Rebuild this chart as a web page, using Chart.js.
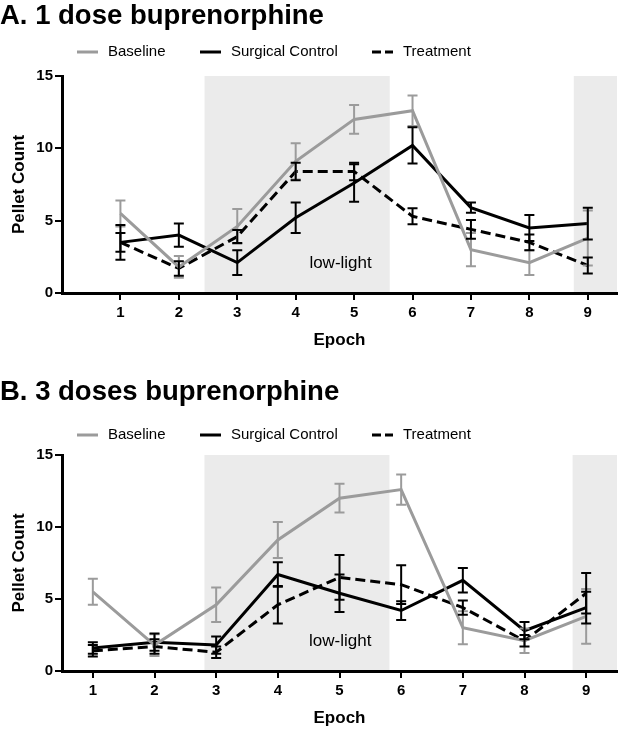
<!DOCTYPE html>
<html>
<head>
<meta charset="utf-8">
<script src="https://cdn.jsdelivr.net/npm/chart.js@4.4.1/dist/chart.umd.min.js"></script>
<style>
  body { margin: 0; background: #fff; }
  .panel { position: absolute; left: 0; width: 620px; }
  #panelA { top: 0; height: 360px; }
  #panelB { top: 360px; height: 370px; }
</style>
</head>
<body>
<div class="panel" id="panelA"><canvas id="ChartA"></canvas></div>
<div class="panel" id="panelB"><canvas id="ChartB"></canvas></div>
<script>
var epochs = [1, 2, 3, 4, 5, 6, 7, 8, 9];
var seriesNames = ['Baseline', 'Surgical Control', 'Treatment'];
var yTicks = [0, 5, 10, 15];

// baseline is the same in both panels
var baseline = [5.5, 1.8, 4.6, 9.1, 12.0, 12.6, 3.0, 2.1, 3.8];
var baselineErr = [0.9, 0.75, 1.2, 1.25, 1.0, 1.05, 1.15, 0.85, 1.9];

// A. 1 dose
var controlA = [3.5, 4.0, 2.1, 5.2, 7.6, 10.2, 5.9, 4.5, 4.8];
var controlErrA = [0.65, 0.8, 0.85, 1.05, 1.3, 1.25, 0.35, 0.9, 1.1];
var treatA = [3.5, 1.7, 3.9, 8.4, 8.4, 5.3, 4.4, 3.5, 1.9];
var treatErrA = [1.2, 0.5, 0.45, 0.6, 0.6, 0.55, 0.65, 0.55, 0.55];
var lowLightA = [[2.44, 5.61], [8.76, 9.5]];

// B. 3 doses
var controlB = [1.6, 2.0, 1.8, 6.7, 5.4, 4.2, 6.3, 2.8, 4.4];
var controlErrB = [0.4, 0.6, 0.6, 0.85, 1.3, 0.65, 0.85, 0.6, 1.1];
var treatB = [1.4, 1.7, 1.3, 4.6, 6.5, 6.0, 4.4, 2.1, 5.4];
var treatErrB = [0.4, 0.5, 0.4, 1.3, 1.55, 1.35, 0.5, 0.4, 1.4];
var lowLightB = [[2.81, 5.81], [8.78, 9.5]];

var FONT = "'Liberation Sans', Arial, Helvetica, sans-serif";
var GRAY = '#9b9b9b';
Chart.defaults.font.family = FONT;
Chart.defaults.color = '#000';

function toPoints(values) {
  return values.map(function(v, i) { return { x: epochs[i], y: v }; });
}

var panelExtras = {
  id: 'panelExtras',
  beforeDraw: function(chart, args, opts) {
    var ctx = chart.ctx, area = chart.chartArea, xs = chart.scales.x;
    ctx.save();
    ctx.fillStyle = '#ebebeb';
    opts.shade.forEach(function(r) {
      var x0 = xs.getPixelForValue(r[0]), x1 = xs.getPixelForValue(r[1]);
      ctx.fillRect(x0, area.top, x1 - x0, area.bottom - area.top);
    });
    // low-light label sits in the first shaded band
    var edge = xs.getPixelForValue(opts.shade[0][1]);
    ctx.fillStyle = '#000';
    ctx.font = '17px ' + FONT;
    ctx.textAlign = 'right';
    ctx.textBaseline = 'middle';
    ctx.fillText('low-light', edge - 18, area.bottom - 30);
    ctx.restore();
  },
  afterDatasetsDraw: function(chart) {
    var ctx = chart.ctx, xs = chart.scales.x, ys = chart.scales.y;
    ctx.save();
    ctx.setLineDash([]);
    ctx.lineWidth = 2;
    chart.data.datasets.forEach(function(ds) {
      ctx.strokeStyle = ds.borderColor;
      ds.data.forEach(function(pt, j) {
        var px = xs.getPixelForValue(pt.x);
        var top = ys.getPixelForValue(pt.y + ds.errors[j]);
        var bot = ys.getPixelForValue(pt.y - ds.errors[j]);
        ctx.beginPath();
        ctx.moveTo(px, top); ctx.lineTo(px, bot);
        ctx.moveTo(px - 5, top); ctx.lineTo(px + 5, top);
        ctx.moveTo(px - 5, bot); ctx.lineTo(px + 5, bot);
        ctx.stroke();
      });
    });
    ctx.restore();
  },
  afterDraw: function(chart, args, opts) {
    var ctx = chart.ctx;
    ctx.save();
    ctx.font = '15px ' + FONT;
    ctx.textAlign = 'left';
    ctx.textBaseline = 'middle';
    ctx.fillStyle = '#000';
    chart.data.datasets.forEach(function(ds, i) {
      var lx = opts.legendX[i], ly = opts.legendY;
      ctx.strokeStyle = ds.borderColor;
      ctx.lineWidth = 3;
      ctx.setLineDash(ds.borderDash ? [9, 4] : []);
      ctx.beginPath();
      ctx.moveTo(lx, ly); ctx.lineTo(lx + 21, ly);
      ctx.stroke();
      ctx.fillText(ds.label, lx + 31, ly);
    });
    ctx.restore();
  }
};

function makePanel(canvasId, title, control, controlErr, treat, treatErr, xMin, shade, lay) {
  var ctx = document.getElementById(canvasId).getContext('2d');
  return new Chart(ctx, {
    type: 'line',
    data: {
      datasets: [{
        label: seriesNames[0],
        data: toPoints(baseline),
        errors: baselineErr,
        borderColor: GRAY,
        borderWidth: 3
      }, {
        label: seriesNames[1],
        data: toPoints(control),
        errors: controlErr,
        borderColor: '#000',
        borderWidth: 3
      }, {
        label: seriesNames[2],
        data: toPoints(treat),
        errors: treatErr,
        borderColor: '#000',
        borderWidth: 3,
        borderDash: [10, 5]
      }]
    },
    options: {
      responsive: true,
      maintainAspectRatio: false,
      animation: false,
      elements: { point: { radius: 0 }, line: { tension: 0 } },
      layout: { padding: { left: 0, right: 3, top: 0, bottom: 0 } },
      plugins: {
        legend: { display: false },
        tooltip: { enabled: false },
        title: {
          display: true,
          text: title,
          align: 'start',
          color: '#000',
          font: { size: 27.5, weight: 'bold' },
          padding: lay.titlePad
        },
        panelExtras: { shade: shade, legendX: [77, 200, 372], legendY: lay.legendY }
      },
      scales: {
        x: {
          type: 'linear',
          min: xMin,
          max: 9.5,
          afterBuildTicks: function(axis) {
            axis.ticks = epochs.map(function(v) { return { value: v }; });
          },
          afterFit: function(scale) { scale.height = lay.xHeight; },
          border: { display: true, color: '#000', width: 3 },
          grid: { drawOnChartArea: false, drawTicks: true, tickLength: 7, color: '#000', lineWidth: 2 },
          ticks: { color: '#000', padding: 4, font: { size: 15, weight: 'bold' } },
          title: {
            display: true,
            text: 'Epoch',
            color: '#000',
            font: { size: 17, weight: 'bold' },
            padding: { top: 0, bottom: lay.epochPad }
          }
        },
        y: {
          min: 0,
          max: 15,
          afterBuildTicks: function(axis) {
            axis.ticks = yTicks.map(function(v) { return { value: v }; });
          },
          afterFit: function(scale) { scale.width = 62; },
          border: { display: true, color: '#000', width: 3 },
          grid: { drawOnChartArea: false, drawTicks: true, tickLength: 7, color: '#000', lineWidth: 2 },
          ticks: { color: '#000', padding: 2, font: { size: 15, weight: 'bold' } },
          title: {
            display: true,
            text: 'Pellet Count',
            color: '#000',
            font: { size: 17, weight: 'bold' },
            padding: { top: 9, bottom: 0 }
          }
        }
      }
    },
    plugins: [panelExtras]
  });
}

makePanel('ChartA', 'A. 1 dose buprenorphine', controlA, controlErrA, treatA, treatErrA, 0, lowLightA,
  { titlePad: { top: 0, bottom: 43 }, legendY: 52, xHeight: 67, epochPad: 9 });
makePanel('ChartB', 'B. 3 doses buprenorphine', controlB, controlErrB, treatB, treatErrB, 0.5, lowLightB,
  { titlePad: { top: 16, bottom: 46 }, legendY: 75, xHeight: 59, epochPad: 1 });
</script>
</body>
</html>
